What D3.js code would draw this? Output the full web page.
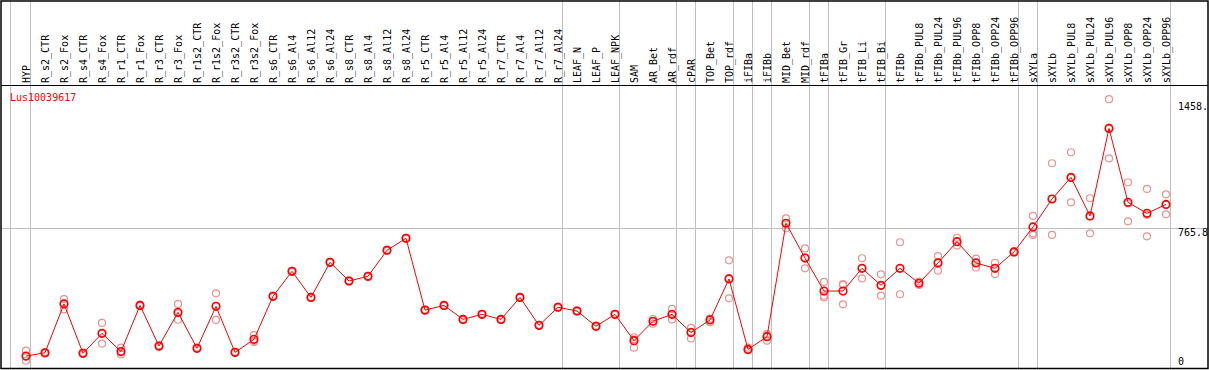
<!DOCTYPE html>
<html><head><meta charset="utf-8">
<script src="https://cdn.jsdelivr.net/npm/d3@7"></script>
<style>body{margin:0;background:#fff}svg{display:block}</style>
</head><body>
<script>
const title = "Lus10039617";
const categories = ["HYP","R_s2_CTR","R_s2_Fox","R_s4_CTR","R_s4_Fox","R_r1_CTR","R_r1_Fox","R_r3_CTR","R_r3_Fox","R_r1s2_CTR","R_r1s2_Fox","R_r3s2_CTR","R_r3s2_Fox","R_s6_CTR","R_s6_Al4","R_s6_Al12","R_s6_Al24","R_s8_CTR","R_s8_Al4","R_s8_Al12","R_s8_Al24","R_r5_CTR","R_r5_Al4","R_r5_Al12","R_r5_Al24","R_r7_CTR","R_r7_Al4","R_r7_Al12","R_r7_Al24","LEAF_N","LEAF_P","LEAF_NPK","SAM","AR_Bet","AR_rdf","cPAR","TOP_Bet","TOP_rdf","iFIBa","iFIBb","MID_Bet","MID_rdf","tFIBa","tFIB_Gr","tFIB_Li","tFIB_Bi","tFIBb","tFIBb_PUL8","tFIBb_PUL24","tFIBb_PUL96","tFIBb_OPP8","tFIBb_OPP24","tFIBb_OPP96","sXYLa","sXYLb","sXYLb_PUL8","sXYLb_PUL24","sXYLb_PUL96","sXYLb_OPP8","sXYLb_OPP24","sXYLb_OPP96"];
const meanValues = [80,98,360,95,202,104,352,134,315,122,347,100,170,401,535,395,583,483,508,648,712,327,352,277,304,277,395,245,342,322,240,304,163,267,304,206,274,494,116,184,793,606,429,429,551,460,551,471,580,694,580,551,639,773,923,1039,832,1302,905,846,894];
const rep1 = [109,102,386,99,258,125,356,138,360,126,417,103,193,404,538,398,586,486,511,651,715,330,355,280,307,280,398,248,345,325,243,307,181,279,333,231,281,594,125,198,819,658,478,462,605,519,691,480,617,715,603,581,642,832,1115,1174,927,1458.7,1013,977,948];
const rep2 = [55,94,331,91,147,89,348,130,275,118,274,97,156,398,532,392,580,480,505,645,709,324,349,274,301,274,392,242,339,319,237,301,125,254,277,175,262,390,111,163,766,551,404,358,497,404,412,462,538,673,556,520,636,739,730,905,739,1141,803,723,841];
const rep3 = [78,98,362,95,200,100,352,134,310,122,350,100,162,401,535,395,583,483,508,648,712,327,352,277,304,277,395,245,342,322,240,304,170,267,302,210,278,498,113,190,793,608,395,467,551,457,550,471,585,694,581,552,639,730,924,1038,830,1306,899,838,893];
const groupEnds = ["HYP","R_r7_Al24","LEAF_NPK","AR_rdf","cPAR","TOP_rdf","iFIBa","iFIBb","MID_rdf","tFIBa","tFIB_Bi","tFIBb_OPP96","sXYLa","sXYLb_OPP96"];

const W = 1209, H = 370;
const svg = d3.select("body").append("svg").attr("width", W).attr("height", H);
const font = "'DejaVu Sans Mono', monospace";

const x = d3.scalePoint().domain(categories).range([26, 1166]);
const maxVal = d3.max([].concat(rep1, rep2, rep3, meanValues));
const yTop = maxVal * 1.05;
const y = d3.scaleLinear().domain([0, yTop]).range([371, 85.6]);
const step = x.step();

// vertical group separators
const sepX = [x(categories[0]) - step + 3].concat(groupEnds.map(c => x(c) + 4));
svg.selectAll("line.sep").data(sepX).enter().append("line")
  .attr("x1", d => Math.round(d) + 0.5).attr("x2", d => Math.round(d) + 0.5).attr("y1", 0).attr("y2", H)
  .attr("stroke", "#c0c0c0").attr("stroke-width", 1);

// horizontal mid gridline
svg.append("line").attr("x1", 1).attr("x2", 1208)
  .attr("y1", Math.round(y(yTop / 2)) + 0.5).attr("y2", Math.round(y(yTop / 2)) + 0.5)
  .attr("stroke", "#c0c0c0").attr("stroke-width", 1);

// frame
svg.append("rect").attr("x", 1).attr("y", 1).attr("width", 1207).attr("height", 367.5)
  .attr("fill", "none").attr("stroke", "#000").attr("stroke-width", 1.5);
svg.append("line").attr("x1", 1).attr("x2", 1208).attr("y1", 85.5).attr("y2", 85.5)
  .attr("stroke", "#000").attr("stroke-width", 1.2);

// column labels
svg.selectAll("text.cat").data(categories).enter().append("text")
  .attr("transform", d => `translate(${x(d) + 3.5},83) rotate(-90)`)
  .attr("font-family", font).attr("font-size", 10).attr("fill", "#000")
  .text(d => d);

// title
svg.append("text").attr("x", 10).attr("y", 101).attr("font-family", font)
  .attr("font-size", 10).attr("fill", "#ff0000").text(title);

// right axis labels (max label truncated to 5 chars, as in the original)
const ticks = [maxVal, yTop / 2, 0];
svg.selectAll("text.tick").data(ticks).enter().append("text")
  .attr("x", 1178)
  .attr("y", (d, i) => i === 0 ? y(d) + 11 : (i === 1 ? y(d) + 8 : y(d) - 6))
  .attr("font-family", font).attr("font-size", 10).attr("fill", "#000")
  .text(d => d === 0 ? "0" : d3.format(".1f")(d).slice(0, 5));

// replicates
[rep1, rep2, rep3].forEach(rep => {
  svg.append("g").selectAll("circle").data(rep).enter().append("circle")
    .attr("cx", (d, i) => x(categories[i])).attr("cy", d => y(d)).attr("r", 3.5)
    .attr("fill", "none").attr("stroke", "#f09090").attr("stroke-width", 1.2);
});

// mean line
const line = d3.line().x((d, i) => x(categories[i])).y(d => y(d));
svg.append("path").datum(meanValues).attr("d", line)
  .attr("fill", "none").attr("stroke", "#ff0000").attr("stroke-width", 1);
svg.append("g").selectAll("circle").data(meanValues).enter().append("circle")
  .attr("cx", (d, i) => x(categories[i])).attr("cy", d => y(d)).attr("r", 3.8)
  .attr("fill", "none").attr("stroke", "#ff0000").attr("stroke-width", 1.6);
</script>
</body></html>
